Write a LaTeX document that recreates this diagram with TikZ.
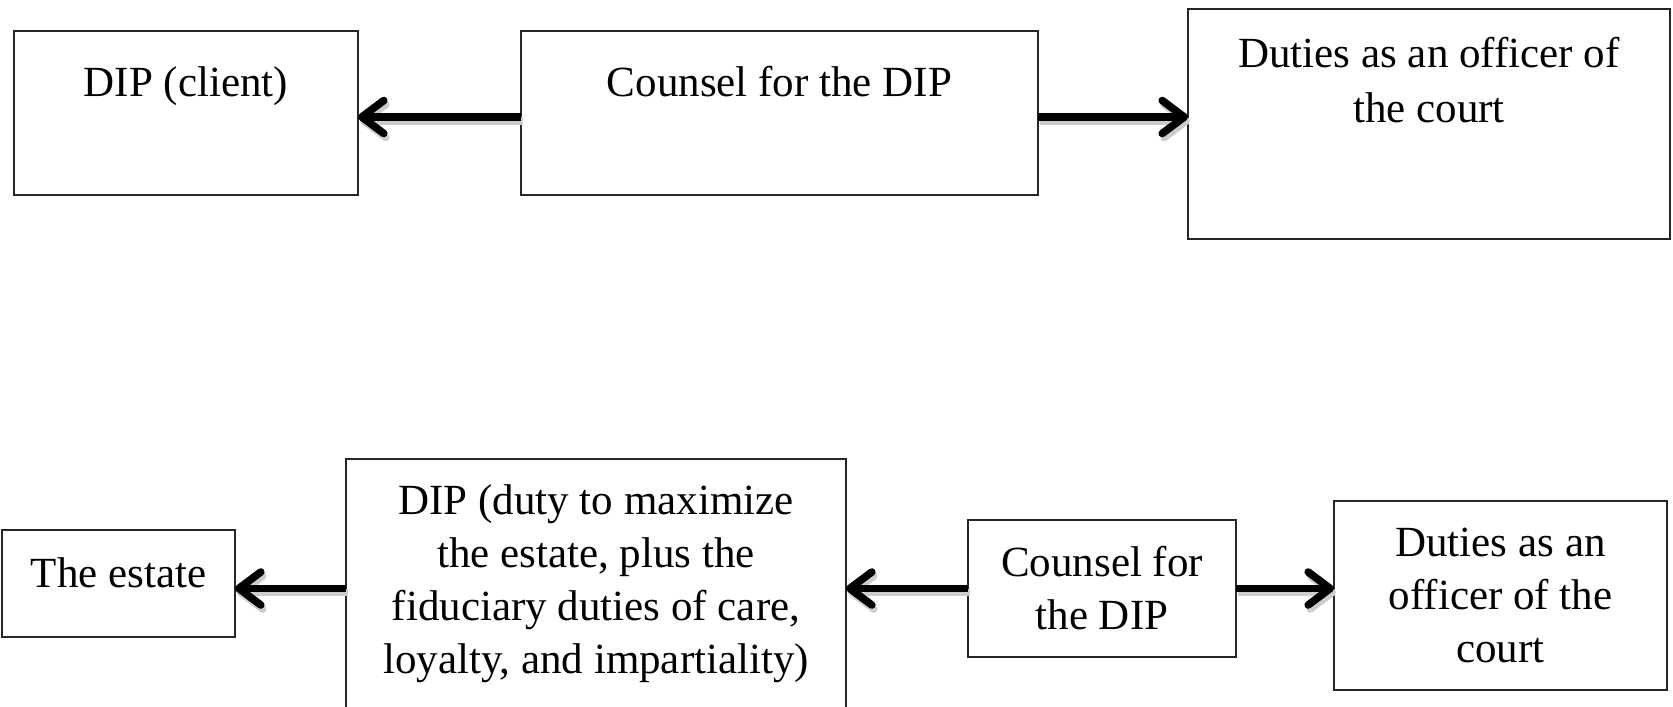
\documentclass[tikz,border=0pt]{standalone}
\usepackage{fontspec}
\setmainfont{Liberation Serif}
\usetikzlibrary{arrows.meta}
\newcommand\lnstrut{\rule{0pt}{16pt}}
\begin{document}
\begin{tikzpicture}[x=0.5pt,y=-0.5pt,
  box/.style={draw=black!85, line width=0.9pt, rectangle, inner sep=0pt, outer sep=0pt},
  txt/.style={anchor=north, align=center, inner sep=0pt, font=\fontsize{21.5}{26.5}\selectfont},
  txttop/.style={txt, font=\fontsize{21.5}{27.5}\selectfont},
  arr/.style={line width=3.8pt, -{Straight Barb[length=11pt,width=16.5pt,round]}},
  arrshadow/.style={arr, draw=black!20, transform canvas={xshift=1pt,yshift=-2pt}}]
\path[use as bounding box, clip] (0,0) rectangle (1673,706);

% upper row
\node[box, minimum width=172pt, minimum height=82pt] (b1) at (186,113) {};
\node[box, minimum width=258.5pt, minimum height=82pt] (b2) at (779.5,113) {};
\node[box, minimum width=241pt, minimum height=115pt] (b3) at (1429,124) {};
\node[txttop] (t1) at (186,64) {\lnstrut DIP (client)};
\node[txttop] (t2) at (779.5,64) {\lnstrut Counsel for the DIP};
\node[txttop] (t3) at (1429,35) {\lnstrut Duties as an officer of\\the court};

% lower row
\node[box, minimum width=116.5pt, minimum height=53.5pt] (est) at (118.5,583.5) {};
\node[box, minimum width=250pt, minimum height=140.5pt] (dip) at (596,599.5) {};
\node[box, minimum width=134pt, minimum height=68.5pt] (cb) at (1102,588.5) {};
\node[box, minimum width=166.5pt, minimum height=94.5pt] (db) at (1500.5,595.5) {};
\node[txt] (t4) at (118.5,555) {\lnstrut The estate};
\node[txt] (t5) at (596,482) {\lnstrut DIP (duty to maximize\\the estate, plus the\\fiduciary duties of care,\\loyalty, and impartiality)};
\node[txt] (t6) at (1102,544) {\lnstrut Counsel for\\the DIP};
\node[txt] (t7) at (1500.5,524) {\lnstrut Duties as an\\officer of the\\court};

% arrow lanes
\coordinate (up) at ([yshift=-2pt]b2.center);
\coordinate (lo) at (cb.center);

% connectors: faint shadow first, then the arrow
\foreach \s in {arrshadow, arr} {
  \draw[\s] (b2.west |- up) -- (b1.east |- up);
  \draw[\s] (b2.east |- up) -- (b3.west |- up);
  \draw[\s] (dip.west |- lo) -- (est.east |- lo);
  \draw[\s] (cb.west) -- (dip.east |- lo);
  \draw[\s] (cb.east) -- (db.west |- lo);
}
\end{tikzpicture}
\end{document}
